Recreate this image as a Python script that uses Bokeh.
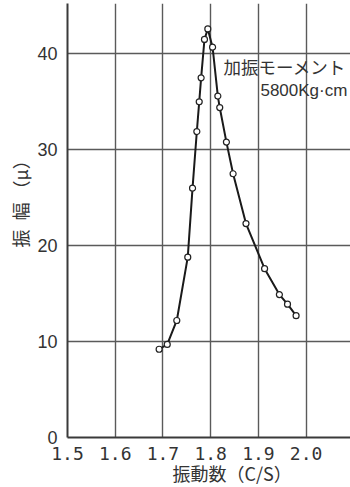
import math
from bokeh.plotting import figure
from bokeh.models import Range1d, FixedTicker, Label, Title
from bokeh.embed import file_html
from bokeh.resources import INLINE

# data
freq = [1.692, 1.709, 1.729, 1.752, 1.762, 1.771, 1.776, 1.780, 1.787, 1.794,
        1.804, 1.815, 1.819, 1.833, 1.847, 1.874, 1.913, 1.944, 1.961, 1.979]
amp = [9.2, 9.7, 12.2, 18.8, 26.0, 31.9, 35.0, 37.5, 41.5, 42.6,
       40.7, 35.6, 34.4, 30.8, 27.5, 22.3, 17.6, 14.9, 13.9, 12.7]
x_ticks = [1.5, 1.6, 1.7, 1.8, 1.9, 2.0]
x_tick_labels = ["1.5", "1.6", "1.7", "1.8", "1.9", "2.0"]
y_ticks = [0, 10, 20, 30, 40]
x_title = "振動数（C/S）"
y_title = "振\u2002幅 （μ）"
note_line1 = "加振モーメント"
note_line2 = "5800Kg·cm"

p = figure(width=350, height=487, output_backend="svg", toolbar_location=None,
           x_range=Range1d(1.5, 2.093), y_range=Range1d(0, 45.25),
           min_border_left=67, min_border_right=0, min_border_top=3,
           min_border_bottom=50)
p.outline_line_color = None
p.background_fill_color = "white"
p.border_fill_color = "white"

p.xaxis.ticker = FixedTicker(ticks=x_ticks)
p.xaxis.major_label_overrides = {t: s for t, s in zip(x_ticks, x_tick_labels)}
p.yaxis.ticker = FixedTicker(ticks=y_ticks)

for ax in (p.xaxis, p.yaxis):
    ax.major_tick_line_color = None
    ax.minor_tick_line_color = None
    ax.axis_line_color = "#3a3a3a"
    ax.axis_line_width = 2
    ax.major_label_text_color = "#333333"

p.xaxis.major_label_text_font = "DejaVu Sans Mono"
p.xaxis.major_label_text_font_size = "18px"
p.xaxis.major_label_standoff = 3
p.yaxis.major_label_text_font = "Liberation Sans"
p.yaxis.major_label_text_font_size = "18px"
p.yaxis.major_label_standoff = 4

p.xgrid.ticker = FixedTicker(ticks=x_ticks)
p.ygrid.ticker = FixedTicker(ticks=y_ticks)
for g in (p.xgrid, p.ygrid):
    g.grid_line_color = "#5a5a5a"
    g.grid_line_width = 1.4
    g.grid_line_alpha = 1.0

p.line(freq, amp, line_color="#1a1a1a", line_width=2)
p.scatter(freq, amp, size=6, marker="circle", fill_color="white",
          line_color="#222222", line_width=1.2)

p.add_layout(Title(text=x_title, align="left", offset=105, standoff=-6,
                   vertical_align="top", text_line_height=0.7,
                   text_font="Noto Sans CJK JP", text_font_size="18px",
                   text_font_style="normal", text_color="#333333"), "below")
p.add_layout(Title(text=y_title, align="left", offset=190, standoff=3,
                   text_font="Noto Sans CJK JP", text_font_size="18px",
                   text_font_style="normal", text_color="#333333"), "left")

p.add_layout(Label(x=1.8268, y=38.7, text=note_line1, text_align="left",
                   text_baseline="middle", text_font="Noto Sans CJK JP",
                   text_font_size="17.5px", text_color="#333333"))
p.add_layout(Label(x=1.9043, y=36.2, text=note_line2, text_align="left",
                   text_baseline="middle", text_font="Liberation Sans",
                   text_font_size="17px", text_color="#333333"))

open("out.html", "w").write(file_html(p, INLINE))
